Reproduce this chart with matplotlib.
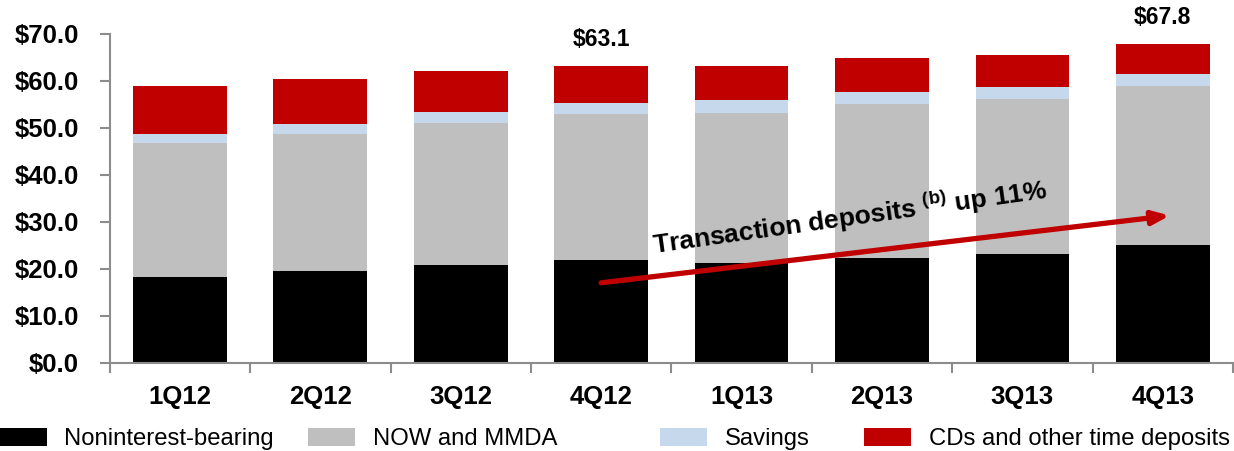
import matplotlib
matplotlib.use("Agg")
import matplotlib.pyplot as plt
import numpy as np

plt.rcParams['font.family'] = ['Liberation Sans', 'DejaVu Sans']
plt.rcParams['mathtext.fontset'] = 'custom'
plt.rcParams['mathtext.rm'] = 'Liberation Sans:bold'
plt.rcParams['mathtext.bf'] = 'Liberation Sans:bold'

categories = ["1Q12", "2Q12", "3Q12", "4Q12", "1Q13", "2Q13", "3Q13", "4Q13"]
noninterest = [18.3, 19.5, 20.8, 21.8, 21.3, 22.2, 23.2, 25.0]
now_mmda = [28.4, 29.1, 30.2, 31.2, 31.8, 32.9, 32.8, 33.8]
savings = [2.0, 2.1, 2.4, 2.3, 2.7, 2.5, 2.6, 2.6]
cds = [10.2, 9.6, 8.7, 7.8, 7.4, 7.2, 6.8, 6.4]
series_names = ["Noninterest-bearing", "NOW and MMDA", "Savings", "CDs and other time deposits"]
colors = ["#000000", "#bfbfbf", "#c6d9ec", "#c00000"]
total_labels = {3: "$63.1", 7: "$67.8"}
yticks = [0, 10, 20, 30, 40, 50, 60, 70]
annot_text = r"Transaction deposits $^{\mathrm{(b)}}$ up 11%"
arrow_start = (3.0, 17.0)
arrow_end = (7.05, 31.3)

fig = plt.figure(figsize=(12.34, 4.51), dpi=100)
ax = fig.add_axes([0.0889, 0.1958, 0.9103, 0.7295])

x = np.arange(len(categories))
w = 0.667
bottom = np.zeros(len(categories))
handles = []
for vals, c, name in zip([noninterest, now_mmda, savings, cds], colors, series_names):
    h = ax.bar(x, vals, w, bottom=bottom, color=c, label=name, edgecolor='none')
    handles.append(h)
    bottom = bottom + np.array(vals)

for i, lab in total_labels.items():
    ax.annotate(lab, (x[i], bottom[i]), xytext=(0, 11), textcoords='offset points',
                ha='center', va='bottom', fontsize=16.5, fontweight='bold')

ax.set_xlim(-0.5, len(categories) - 0.5)
ax.set_ylim(0, 70)
ax.set_yticks(yticks)
ax.set_yticklabels([f"${v:.1f}" for v in yticks], fontsize=18.5, fontweight='bold')
ax.tick_params(axis='y', length=7, width=1.5, color='#8c8c8c', pad=15)

ax.set_xticks(np.arange(-0.5, len(categories) + 0.5, 1.0))
ax.set_xticklabels([])
ax.set_xticks(x, minor=True)
ax.set_xticklabels(categories, minor=True, fontsize=18.5, fontweight='bold')
ax.tick_params(axis='x', which='major', length=7, width=1.5, color='#8c8c8c')
ax.tick_params(axis='x', which='minor', length=0, pad=16)

for s in ['top', 'right']:
    ax.spines[s].set_visible(False)
for s in ['left', 'bottom']:
    ax.spines[s].set_color('#8c8c8c')
    ax.spines[s].set_linewidth(1.5)

ax.annotate('', xy=arrow_end, xytext=arrow_start,
            arrowprops=dict(arrowstyle='-|>,head_length=1.0,head_width=0.4', color='#c00000',
                            lw=3.8, shrinkA=0, shrinkB=0))
ax.text(4.77, 31.0, annot_text, rotation=8, rotation_mode='anchor', ha='center', va='center',
        fontsize=19, fontweight='bold')

leg_x = [0.0, 0.2496, 0.5348, 0.7002]
for h, name, lx in zip(handles, series_names, leg_x):
    fig.legend([h], [name], loc='center left', bbox_to_anchor=(lx, 0.027), frameon=False,
               fontsize=17.2, handlelength=1.95, handleheight=0.8, handletextpad=0.75,
               borderpad=0, borderaxespad=0)

fig.savefig("out.png", dpi=100)
